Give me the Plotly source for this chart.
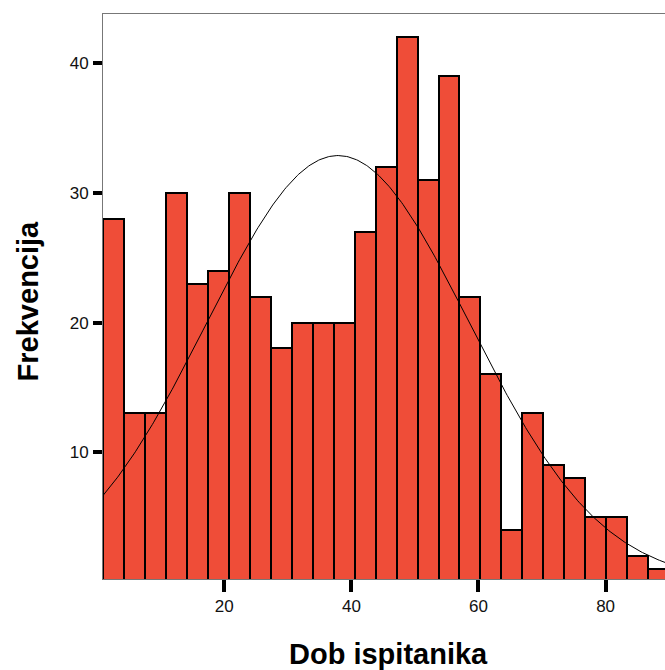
import numpy as np
import plotly.graph_objects as go

# Histogram data (age of respondents)
bin_start = 0.91
bin_width = 3.3
counts = [28, 13, 13, 30, 23, 24, 30, 22, 18, 20, 20, 20, 27, 32, 42, 31, 39,
          22, 16, 4, 13, 9, 8, 5, 5, 2, 1]
x_ticks = [20, 40, 60, 80]
y_ticks = [10, 20, 30, 40]
x_title = "Dob ispitanika"
y_title = "Frekvencija"

# Normal curve parameters (fitted)
mean_age = 37.9
sd_age = 20.7

centers = [bin_start + bin_width * (i + 0.5) for i in range(len(counts))]
n_total = sum(counts)

xr = [bin_start, 89.35]
xc = np.linspace(xr[0], xr[1], 400)
yc = n_total * bin_width / (sd_age * np.sqrt(2 * np.pi)) * np.exp(-0.5 * ((xc - mean_age) / sd_age) ** 2)

fig = go.Figure()
fig.add_trace(go.Bar(
    x=centers, y=counts, width=bin_width,
    marker=dict(color="#EF4D38", line=dict(color="black", width=2)),
    base=0,
))
fig.add_trace(go.Scatter(
    x=xc, y=yc, mode="lines",
    line=dict(color="black", width=1),
))

font_family = "Liberation Sans, Arial, sans-serif"
fig.update_layout(
    width=665, height=670, autosize=False,
    margin=dict(l=103, r=0, t=14, b=91, pad=0),
    plot_bgcolor="white", paper_bgcolor="white",
    showlegend=False,
    bargap=0,
    font=dict(family=font_family, size=17, color="#111"),
    xaxis=dict(
        range=xr, tickvals=x_ticks, ticks="outside", ticklen=12, tickwidth=4,
        tickcolor="black", showgrid=False, zeroline=False,
        showline=True, linecolor="#777", linewidth=1, mirror=True,
        tickfont=dict(size=17, color="#111"),
    ),
    yaxis=dict(
        range=[0.22, 43.8], tickvals=y_ticks, ticks="outside", ticklen=9, tickwidth=4,
        tickcolor="black", showgrid=False, zeroline=False,
        showline=True, linecolor="#777", linewidth=1, mirror=False,
        tickfont=dict(size=17, color="#111"), ticklabelstandoff=1,
    ),
    annotations=[
        dict(text=f"<b>{x_title}</b>", xref="paper", yref="paper",
             x=0.5074, y=-0.133, xanchor="center", yanchor="middle",
             showarrow=False, font=dict(size=29, color="black", family=font_family)),
        dict(text=f"<b>{y_title}</b>", xref="paper", yref="paper",
             x=-0.1328, y=0.492, xanchor="center", yanchor="middle", textangle=-90,
             showarrow=False, font=dict(size=29, color="black", family=font_family)),
    ],
)

fig.write_html("out.html")
